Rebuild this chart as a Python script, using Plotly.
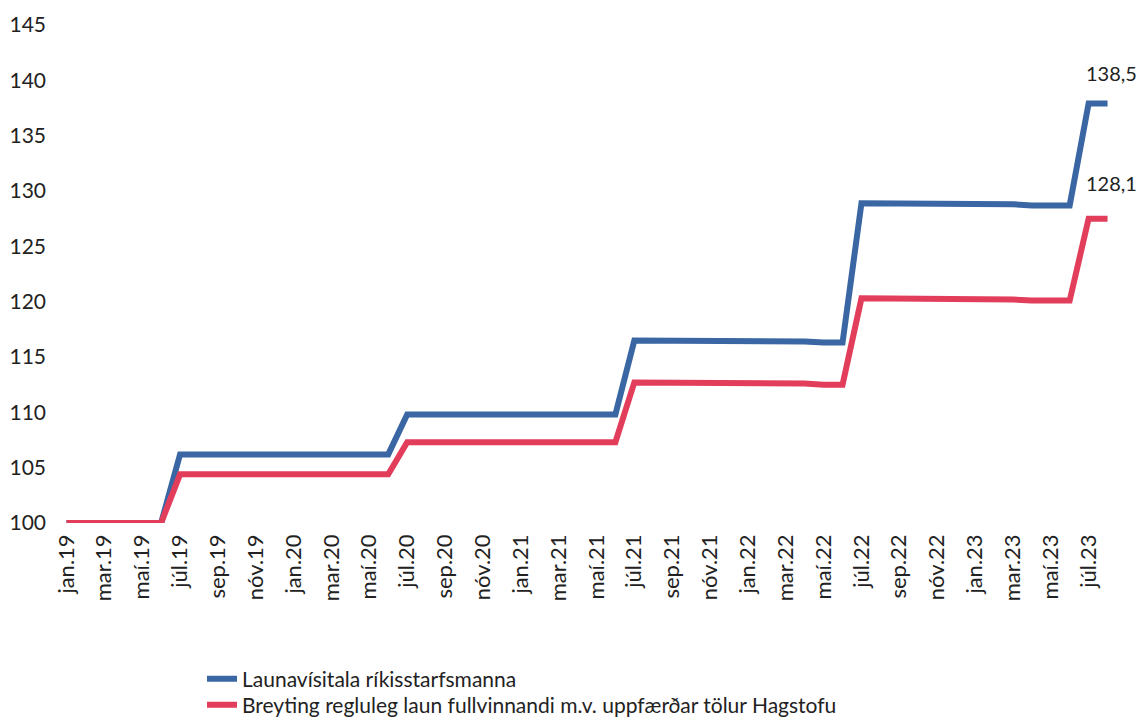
import plotly.graph_objects as go

months = ["jan", "feb", "mar", "apr", "maí", "jún", "júl", "ágú", "sep", "okt", "nóv", "des"]
categories = [f"{m}.{y}" for y in ["19", "20", "21", "22", "23"] for m in months][:56]

blue_name = "Launavísitala ríkisstarfsmanna"
red_name = "Breyting regluleg laun fullvinnandi m.v. uppfærðar tölur Hagstofu"

blue = ([100.0] * 6
        + [106.2] * 12
        + [109.8] * 12
        + [116.5, 116.5, 116.5, 116.5, 116.5, 116.4, 116.4, 116.4, 116.4, 116.4, 116.3, 116.3]
        + [128.9, 128.9, 128.9, 128.9, 128.8, 128.8, 128.8, 128.8, 128.8, 128.7, 128.7, 128.7]
        + [137.9, 137.9])
red = ([100.0] * 6
       + [104.4] * 12
       + [107.3] * 12
       + [112.7, 112.7, 112.7, 112.7, 112.7, 112.6, 112.6, 112.6, 112.6, 112.6, 112.5, 112.5]
       + [120.3, 120.3, 120.3, 120.3, 120.3, 120.2, 120.2, 120.2, 120.2, 120.1, 120.1, 120.1]
       + [127.5, 127.5])
end_labels = ["138,5", "128,1"]

y_ticks = [100, 105, 110, 115, 120, 125, 130, 135, 140, 145]
x_ticks = categories[::2]

BLUE = "#3A66A3"
RED = "#E23E5C"
FONT = "Lato"
TXT = "#222222"

fig = go.Figure()
fig.add_trace(go.Scatter(x=categories, y=blue, mode="lines", name=blue_name,
                         line=dict(color=BLUE, width=6), legend="legend"))
fig.add_trace(go.Scatter(x=categories, y=red, mode="lines", name=red_name,
                         line=dict(color=RED, width=6), legend="legend2"))

fig.add_annotation(x=categories[-1], y=blue[-1], text=end_labels[0], showarrow=False,
                   xref="x", yref="y", yshift=31, xshift=4, xanchor="center",
                   font=dict(family=FONT, size=20, color=TXT))
fig.add_annotation(x=categories[-1], y=red[-1], text=end_labels[1], showarrow=False,
                   xref="x", yref="y", yshift=36, xshift=4, xanchor="center",
                   font=dict(family=FONT, size=20, color=TXT))

legend_common = dict(
    xref="container", yref="container", xanchor="left", yanchor="middle",
    font=dict(family=FONT, size=21, color=TXT), bgcolor="rgba(0,0,0,0)",
    borderwidth=0,
)

fig.update_layout(
    width=1140, height=717,
    margin=dict(l=57, r=23, t=25, b=194, autoexpand=False),
    paper_bgcolor="white", plot_bgcolor="white",
    font=dict(family=FONT, size=20, color=TXT),
    showlegend=True,
    legend=dict(x=202 / 1140, y=1 - 679 / 717, **legend_common),
    legend2=dict(x=202 / 1140, y=1 - 705 / 717, **legend_common),
    xaxis=dict(
        type="category", range=[-0.5, 55.5],
        tickmode="array", tickvals=x_ticks, ticktext=x_ticks,
        tickangle=-90, showgrid=False, zeroline=False, showline=False,
        ticks="", ticklabelstandoff=6,
        tickfont=dict(family=FONT, size=22, color=TXT),
    ),
    yaxis=dict(
        range=[100, 145], tickmode="array", tickvals=y_ticks,
        showgrid=False, zeroline=False, showline=False, ticks="",
        ticklabelstandoff=10,
        tickfont=dict(family=FONT, size=21, color=TXT),
    ),
)

fig.write_html("out.html")
